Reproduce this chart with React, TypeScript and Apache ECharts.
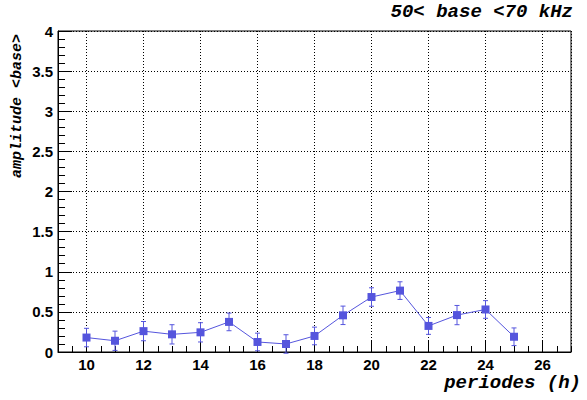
import React, { useEffect, useRef } from "react";
import * as echarts from "echarts";

const hours = [10, 11, 12, 13, 14, 15, 16, 17, 18, 19, 20, 21, 22, 23, 24, 25];
const amplitude = [0.18, 0.14, 0.26, 0.22, 0.245, 0.375, 0.125, 0.1, 0.2, 0.457, 0.685, 0.765, 0.325, 0.46, 0.53, 0.19];
const errors = [0.115, 0.12, 0.12, 0.12, 0.12, 0.11, 0.11, 0.115, 0.11, 0.115, 0.115, 0.11, 0.105, 0.12, 0.11, 0.11];
const xRange = [9, 27];
const yRange = [0, 4];
const titleText = "50< base <70 kHz";
const xName = "periodes (h)";
const yName = "amplitude <base>";

const COLOR = "#5555dd";
const LABEL_FONT = "'Liberation Sans', Arial, sans-serif";
const MONO = "'Liberation Mono', 'DejaVu Sans Mono', monospace";

export default function App() {
  const ref = useRef<HTMLDivElement>(null);
  useEffect(() => {
    if (!ref.current) return;
    const chart = echarts.init(ref.current, undefined, { renderer: "svg" });
    const points = hours.map((h, i) => [h, amplitude[i]]);
    const bars = hours.map((h, i) => [h, amplitude[i] - errors[i], amplitude[i] + errors[i]]);
    const grid = { left: 58, right: 16, top: 31, bottom: 48 };
    chart.setOption({
      animation: false,
      backgroundColor: "#ffffff",
      grid: { ...grid, show: true, borderColor: "#000", borderWidth: 1, backgroundColor: "transparent" },
      xAxis: [
        {
          type: "value",
          position: "bottom",
          min: xRange[0],
          max: xRange[1],
          interval: 0.5,
          axisLine: { show: true, onZero: false, lineStyle: { color: "#000", width: 1 } },
          axisTick: { show: true, inside: true, length: 6, lineStyle: { color: "#000" } },
          axisLabel: { show: false },
          splitLine: { show: false },
        },
        {
          type: "value",
          position: "bottom",
          min: xRange[0],
          max: xRange[1],
          splitNumber: 9,
          axisLine: { show: false, onZero: false },
          axisTick: { show: true, inside: true, length: 12, lineStyle: { color: "#000" } },
          axisLabel: {
            show: true,
            showMinLabel: false,
            showMaxLabel: false,
            margin: 5,
            color: "#000",
            fontFamily: LABEL_FONT,
            fontWeight: "bold",
            fontSize: 15,
          },
          splitLine: { show: true, lineStyle: { color: "#000", type: [1, 2], width: 1 } },
        },
      ],
      yAxis: {
        type: "value",
        min: yRange[0],
        max: yRange[1],
        interval: 0.5,
        axisLine: { show: true, onZero: false, lineStyle: { color: "#000", width: 1 } },
        axisTick: { show: true, inside: true, length: 14, lineStyle: { color: "#000" } },
        minorTick: { show: true, splitNumber: 5, length: 7, lineStyle: { color: "#000" } },
        axisLabel: {
          margin: 5,
          color: "#000",
          fontFamily: LABEL_FONT,
          fontWeight: "bold",
          fontSize: 15,
        },
        splitLine: { show: true, lineStyle: { color: "#000", type: [1, 2], width: 1 } },
      },
      graphic: [
        {
          type: "text",
          right: 14,
          top: 2,
          style: {
            text: titleText,
            fill: "#000",
            font: `italic bold 19px ${MONO}`,
          },
        },
        {
          type: "text",
          right: 6,
          top: 373,
          style: {
            text: xName,
            fill: "#000",
            font: `italic bold 19px ${MONO}`,
          },
        },
        {
          type: "text",
          x: 17,
          y: 34,
          rotation: Math.PI / 2,
          style: {
            text: yName,
            fill: "#000",
            align: "right",
            verticalAlign: "middle",
            font: `italic bold 15px ${MONO}`,
          },
        },
      ],
      series: [
        {
          type: "custom",
          xAxisIndex: 0,
          data: bars,
          z: 3,
          renderItem: (params: any, api: any) => {
            const x = api.value(0);
            const lo = api.coord([x, api.value(1)]);
            const hi = api.coord([x, api.value(2)]);
            const cap = 2.5;
            const style = { stroke: COLOR, lineWidth: 1 };
            return {
              type: "group",
              children: [
                { type: "line", shape: { x1: lo[0], y1: lo[1], x2: hi[0], y2: hi[1] }, style },
                { type: "line", shape: { x1: lo[0] - cap, y1: lo[1], x2: lo[0] + cap, y2: lo[1] }, style },
                { type: "line", shape: { x1: hi[0] - cap, y1: hi[1], x2: hi[0] + cap, y2: hi[1] }, style },
              ],
            };
          },
        },
        {
          type: "line",
          xAxisIndex: 0,
          data: points,
          symbol: "rect",
          symbolSize: 8,
          z: 4,
          lineStyle: { color: COLOR, width: 1 },
          itemStyle: { color: COLOR },
        },
      ],
    });
    return () => chart.dispose();
  }, []);
  return <div ref={ref} style={{ position: "fixed", left: 0, top: 0, width: 587, height: 400 }} />;
}
